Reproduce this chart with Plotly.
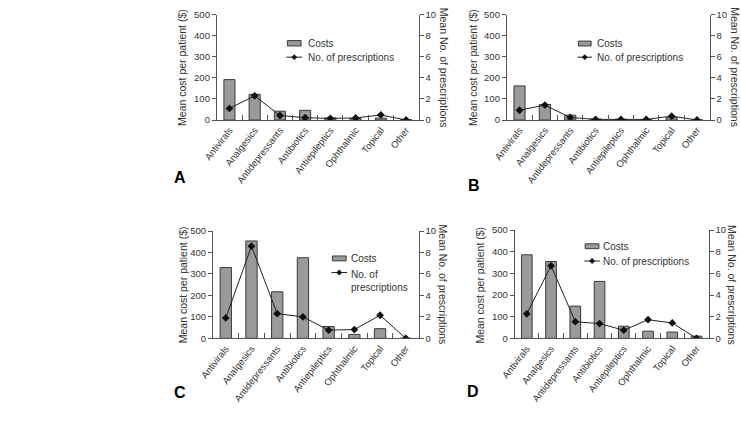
import plotly.graph_objects as go

categories = ["Antivirals", "Analgesics", "Antidepressants", "Antibiotics",
              "Antiepileptics", "Ophthalmic", "Topical", "Other"]

costs_A = [192, 122, 42, 46, 10, 7, 9, 2]
rx_A = [1.1, 2.3, 0.43, 0.22, 0.15, 0.2, 0.48, 0.0]

costs_B = [162, 74, 23, 5, 4, 2, 11, 1]
rx_B = [0.93, 1.42, 0.24, 0.06, 0.06, 0.06, 0.37, 0.0]

costs_C = [330, 454, 217, 376, 55, 18, 45, 0]
rx_C = [1.9, 8.6, 2.3, 2.0, 0.76, 0.82, 2.15, 0.0]

costs_D = [386, 355, 149, 263, 56, 33, 29, 10]
rx_D = [2.26, 6.7, 1.54, 1.36, 0.75, 1.72, 1.42, 0.0]

cost_ticks = [0, 100, 200, 300, 400, 500]
rx_ticks = [0, 2, 4, 6, 8, 10]

W, H = 741, 432
FONT = "Liberation Sans"
TXT = "#333333"
AX = "#555555"
BAR_FILL = "#9a9a9a"
BAR_LINE = "#3a3a3a"


def px(x):
    return x / W


def py(y):
    return 1 - y / H


fig = go.Figure()

# panel geometry in pixels: (left, right, top, bottom)
panels = [
    ("A", costs_A, rx_A, (206, 412, 9, 117)),
    ("B", costs_B, rx_B, (502, 709, 9, 117)),
    ("C", costs_C, rx_C, (202, 412, 231, 341)),
    ("D", costs_D, rx_D, (510, 708, 230, 341)),
]

layout = {}
for i, (name, costs, rx, (l, r, t, b)) in enumerate(panels):
    xn = "" if i == 0 else str(i + 1)
    yl = "" if i == 0 else str(2 * i + 1)
    yr = str(2 * i + 2)
    fig.add_trace(go.Bar(
        x=categories, y=costs, xaxis="x" + xn, yaxis="y" + yl,
        width=0.44, marker=dict(color=BAR_FILL, line=dict(color=BAR_LINE, width=1)),
        showlegend=False, name="Costs"))
    fig.add_trace(go.Scatter(
        x=categories, y=rx, xaxis="x" + xn, yaxis="y" + yr, mode="lines+markers",
        line=dict(color="#222222", width=1),
        marker=dict(symbol="diamond", size=6, color="#111111"),
        showlegend=False, name="No. of prescriptions"))

    layout["xaxis" + xn] = dict(
        domain=[px(l), px(r)], anchor="y" + yl, type="category",
        categoryorder="array", categoryarray=categories, range=[-0.5, 7.5],
        showline=True, linecolor=AX, linewidth=1, ticks="inside",
        tickson="boundaries", ticklen=5, tickcolor=AX, tickangle=-52,
        tickfont=dict(family=FONT, size=9.5, color=TXT), showgrid=False,
        zeroline=False, fixedrange=True)
    layout["yaxis" + yl] = dict(
        domain=[py(b), py(t)], anchor="x" + xn, range=[0, 500],
        tickvals=cost_ticks, showline=True, linecolor=AX, linewidth=1,
        ticks="outside", ticklen=4, tickcolor=AX, showgrid=False,
        zeroline=False, tickfont=dict(family=FONT, size=9.5, color=TXT))
    layout["yaxis" + yr] = dict(
        overlaying="y" + yl, anchor="x" + xn, side="right", range=[0, 10],
        tickvals=rx_ticks, showline=True, linecolor=AX, linewidth=1,
        ticks="outside", ticklen=4, tickcolor=AX, showgrid=False,
        zeroline=False, tickfont=dict(family=FONT, size=9.5, color=TXT))

annotations = []
# axis titles
left_titles = [(171, 63), (468, 63), (171, 286), (474.5, 286)]
right_titles = [(437.5, 63), (734, 63), (437, 286), (732.5, 286)]
for (x, y) in left_titles:
    annotations.append(dict(x=px(x), y=py(y), xref="paper", yref="paper",
                            text="Mean cost per patient ($)", showarrow=False,
                            textangle=-90, font=dict(family=FONT, size=10.5, color=TXT),
                            xanchor="center", yanchor="middle", borderpad=0))
for (x, y) in right_titles:
    annotations.append(dict(x=px(x), y=py(y), xref="paper", yref="paper",
                            text="Mean No. of prescriptions", showarrow=False,
                            textangle=90, font=dict(family=FONT, size=10.5, color=TXT),
                            xanchor="center", yanchor="middle", borderpad=0))
# panel letters
for (lab, x, y) in [("A", 168, 176), ("B", 468, 184), ("C", 168, 397), ("D", 467, 396)]:
    annotations.append(dict(x=px(x), y=py(y), xref="paper", yref="paper",
                            text="<b>%s</b>" % lab, showarrow=False,
                            font=dict(family=FONT, size=16, color="#000000"),
                            xanchor="center", yanchor="middle"))

# manual legends: (rect x0,x1, rect y0,y1, line y, text x, two-line?)
legends = [
    (278, 292, 35.5, 41, 52.5, 297, False),
    (575, 588, 36, 41, 52.5, 592, False),
    (324, 338, 256.5, 261.5, 273.5, 341, True),
    (582, 596, 244, 249, 261.7, 598, False),
]
shapes = []
for (x0, x1, y0, y1, ly, tx, two) in legends:
    shapes.append(dict(type="rect", xref="paper", yref="paper",
                       x0=px(x0), x1=px(x1), y0=py(y1), y1=py(y0),
                       fillcolor=BAR_FILL, line=dict(color=BAR_LINE, width=1)))
    shapes.append(dict(type="line", xref="paper", yref="paper",
                       x0=px(x0 - 1), x1=px(x1 + 1), y0=py(ly), y1=py(ly),
                       line=dict(color="#222222", width=1)))
    cx = (x0 + x1) / 2
    d = 3
    path = "M %f,%f L %f,%f L %f,%f L %f,%f Z" % (
        px(cx), py(ly - d), px(cx + d), py(ly), px(cx), py(ly + d), px(cx - d), py(ly))
    shapes.append(dict(type="path", xref="paper", yref="paper", path=path,
                       fillcolor="#111111", line=dict(color="#111111", width=0)))
    annotations.append(dict(x=px(tx), y=py((y0 + y1) / 2), xref="paper", yref="paper",
                            text="Costs", showarrow=False, xanchor="left", yanchor="middle",
                            font=dict(family=FONT, size=10, color=TXT)))
    if two:
        annotations.append(dict(x=px(tx), y=py(ly - 6), xref="paper", yref="paper",
                                text="No. of<br>prescriptions", showarrow=False,
                                xanchor="left", yanchor="top", align="left",
                                font=dict(family=FONT, size=10, color=TXT)))
    else:
        annotations.append(dict(x=px(tx), y=py(ly), xref="paper", yref="paper",
                                text="No. of prescriptions", showarrow=False,
                                xanchor="left", yanchor="middle",
                                font=dict(family=FONT, size=10, color=TXT)))

fig.update_layout(
    width=W, height=H, margin=dict(l=0, r=0, t=0, b=0),
    paper_bgcolor="white", plot_bgcolor="white",
    showlegend=False, bargap=0.56,
    annotations=annotations, shapes=shapes,
    **layout)

fig.write_html(
    "out.html",
    config={"displayModeBar": False},
    post_script="document.body.style.margin='0';document.body.style.overflow='hidden';",
)
